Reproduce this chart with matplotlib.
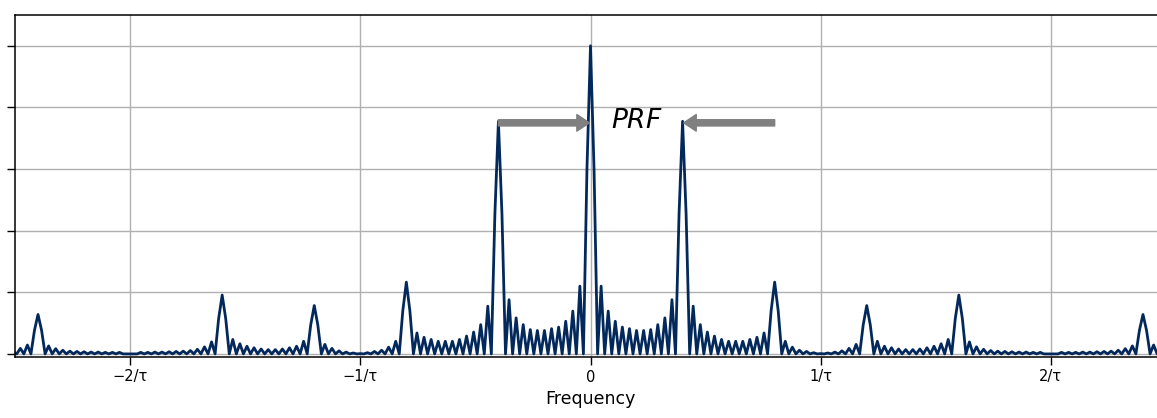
import matplotlib
matplotlib.use("Agg")
import matplotlib.pyplot as plt
import matplotlib.ticker as ticker

# frequency axis in units of 1/tau, PRF = 0.4/tau, 13 nulls per PRF interval
PRF = 0.4
N_NULLS = 13

# PRF harmonics (right half, spectrum is symmetric) and their peak magnitude
harmonic_freq = [0.0, 0.4, 0.8, 1.2, 1.6, 2.0, 2.4]
harmonic_peak = [1.0, 0.755, 0.233, 0.157, 0.191, 0.0, 0.128]

# shape of a main lobe: half a null spacing either side of the peak
main_lobe_shape = [0.6, 1.0, 0.6]

# sidelobe heights between consecutive harmonics
sidelobes = [
    [0.220, 0.139, 0.106, 0.087, 0.082, 0.076, 0.076, 0.079, 0.095, 0.117, 0.176],
    [0.155, 0.095, 0.071, 0.058, 0.047, 0.041, 0.041, 0.041, 0.047, 0.054, 0.068],
    [0.041, 0.022, 0.012, 0.008, 0.004, 0.001, 0.003, 0.006, 0.010, 0.018, 0.031],
    [0.041, 0.025, 0.020, 0.016, 0.014, 0.014, 0.016, 0.020, 0.025, 0.033, 0.047],
    [0.039, 0.023, 0.015, 0.011, 0.009, 0.008, 0.007, 0.006, 0.006, 0.005, 0.005],
    [0.005, 0.005, 0.005, 0.006, 0.006, 0.007, 0.008, 0.009, 0.012, 0.017, 0.026],
]
tail_lobes = [0.029, 0.018]
edge_value = 0.004

xtick_pos = [-2, -1, 0, 1, 2]
xtick_labels = ["\u22122/\u03c4", "\u22121/\u03c4", "0", "1/\u03c4", "2/\u03c4"]
ytick_pos = [0.0, 0.2, 0.4, 0.6, 0.8, 1.0]


def build_half():
    step = PRF / N_NULLS
    xs, ys = [], []
    for k, (fc, pk) in enumerate(zip(harmonic_freq, harmonic_peak)):
        offsets = [-0.5, 0.0, 0.5]
        for off, s in zip(offsets, main_lobe_shape):
            if k == 0 and off < 0:
                continue
            xs.append(fc + off * step)
            ys.append(s * pk)
        lobes = sidelobes[k] if k < len(sidelobes) else tail_lobes
        for j, h in enumerate(lobes, start=1):
            xs += [fc + j * step, fc + (j + 0.5) * step]
            ys += [0.0, h]
        xs.append(fc + (len(lobes) + 1) * step)
        ys.append(0.0)
    xs.append(2.5)
    ys.append(edge_value)
    return xs, ys


def draw():
    xr, yr = build_half()
    x = [-v for v in xr[::-1]] + xr[1:]
    y = yr[::-1] + yr[1:]

    figure = plt.figure(figsize=(11.57, 4.18), dpi=100)
    axes = figure.add_axes([15 / 1157, 61 / 418, 1151 / 1157, 342 / 418])

    axes.plot(x, y, color="#03295c", linewidth=2.0)
    axes.set_xlim(-2.5, 2.5)
    axes.set_ylim(-0.01, 1.1)

    axes.xaxis.set_major_locator(ticker.FixedLocator(xtick_pos))
    axes.set_xticklabels(xtick_labels, fontsize=10.5)
    axes.yaxis.set_major_locator(ticker.FixedLocator(ytick_pos))
    axes.set_yticklabels([])
    axes.tick_params(length=5.5, width=1.0)
    axes.grid(True, color="#b0b0b0", linewidth=1.0)
    for spine in axes.spines.values():
        spine.set_linewidth(1.1)
    axes.set_xlabel("Frequency", fontsize=12.5)

    arrow = dict(facecolor="gray", edgecolor="gray", width=4.5, headwidth=12,
                 headlength=9, shrink=0.0)
    axes.annotate("", xy=(-0.005, 0.75), xytext=(-0.4, 0.75), arrowprops=arrow)
    axes.annotate("", xy=(0.405, 0.75), xytext=(0.8, 0.75), arrowprops=arrow)
    axes.text(0.2, 0.755, r"$PRF$", fontsize=19, ha="center", va="center")

    return figure


if __name__ == "__main__":
    fig = draw()
    fig.savefig("out.png", dpi=100)
